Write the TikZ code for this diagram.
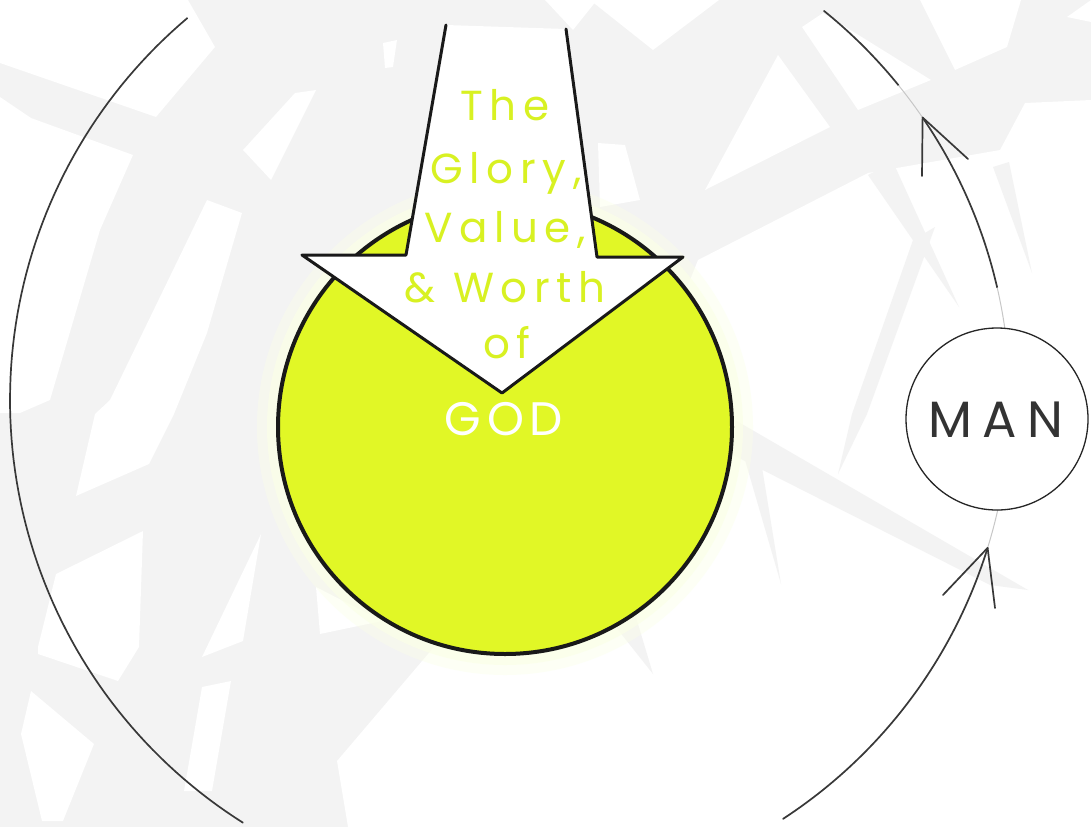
\documentclass[tikz,border=0pt]{standalone}
\usepackage{fontspec}
\setmainfont{Poppins}
\newfontfamily\gloryfont{Poppins}[LetterSpace=16]
\newfontfamily\godfont{Poppins}[LetterSpace=12]
\newfontfamily\manfont{Poppins}[LetterSpace=21]
\definecolor{bggray}{RGB}{243,243,243}
\definecolor{godgreen}{RGB}{225,247,38}
\definecolor{textgreen}{RGB}{216,241,34}
\definecolor{halo}{RGB}{251,255,232}
\begin{document}
\begin{tikzpicture}[x=1pt,y=-1pt,
  wpatch/.style={fill=white,draw=none},
  gpatch/.style={fill=bggray,draw=none},
  orbit/.style={draw=black!78,line width=1.7pt,line cap=round,line join=round},
  faint/.style={draw=black!22,line width=1pt},
  glory/.style={text=textgreen,font=\gloryfont\fontsize{42}{48}\selectfont,anchor=base,inner sep=0pt},
  outline/.style={draw=black!90,line width=3pt,line cap=round,line join=round}]
\useasboundingbox (0,0) rectangle (1091,827);
% ---------- background ----------
\fill[bggray] (0,0) rectangle (1091,827);
\fill[wpatch] (0,0) -- (188,0) -- (215,47) -- (156,117) -- (0,63) -- cycle;
\fill[wpatch] (0,97) -- (31,118) -- (133,155) -- (100,230) -- (50,400) -- (20,413) -- (0,413) -- cycle;
\fill[wpatch] (207,200) -- (242,213) -- (207,333) -- (174,414) -- (149,464) -- (76,496) -- (95,414) -- (110,400) -- cycle;
\fill[wpatch] (243,150) -- (271,180) -- (316,90) -- (295,93) -- cycle;
\fill[wpatch] (383,43) -- (397,40) -- (393,67) -- (385,68) -- cycle;
\fill[wpatch] (38,647) -- (56,574) -- (143,531) -- (139,647) -- (118,681) -- (38,654) -- cycle;
\fill[wpatch] (202,657) -- (261,534) -- (243,641) -- cycle;
\fill[wpatch] (21,734) -- (31,691) -- (94,744) -- (63,821) -- (42,821) -- cycle;
\fill[wpatch] (184,791) -- (202,687) -- (231,681) -- (212,791) -- cycle;
\fill[wpatch] (316,587) -- (382,621) -- (320,634) -- cycle;
\fill[wpatch] (590,0) -- (719,0) -- (653,50) -- cycle;
\fill[wpatch] (545,0) -- (597,0) -- (573,30) -- cycle;
\fill[wpatch] (598,143) -- (625,145) -- (640,200) -- (600,207) -- cycle;
\fill[wpatch] (705,190) -- (778,55) -- (830,127) -- cycle;
\fill[wpatch] (802,27) -- (823,13) -- (931,80) -- (858,110) -- cycle;
\fill[wpatch] (920,0) -- (1021,0) -- (1007,47) -- (955,70) -- cycle;
\fill[wpatch] (1067,17) -- (1091,0) -- (1091,22) -- cycle;
\fill[wpatch] (348,827) -- (337,761) -- (434,647) -- (545,647) -- (698,260) -- (868,173)
   -- (1000,150) -- (1025,103) -- (1091,100) -- (1091,827) -- cycle;
\fill[gpatch] (868,175) -- (893,162) -- (959,307) -- cycle;
\fill[gpatch] (993,167) -- (1009,162) -- (1032,273) -- cycle;
\fill[gpatch] (913,240) -- (935,227) -- (867,414) -- (838,474) -- (852,414) -- cycle;
\fill[gpatch] (735,420) -- (1028,590) -- (990,585) -- (733,455) -- cycle;
\fill[gpatch] (745,460) -- (760,455) -- (781,584) -- cycle;
\fill[gpatch] (611,621) -- (635,614) -- (653,674) -- cycle;
% ---------- orbit ----------
\coordinate (orbitc) at (510,400);
\draw[orbit] plot[domain=122.3:229.8,samples=90] ({510+500*cos(\x)},{400+500*sin(\x)});
\draw[orbit] plot[domain=-51.1:-39,samples=20] ({510+500*cos(\x)},{400+500*sin(\x)});
\draw[faint] plot[domain=-39:-34.4,samples=10] ({510+500*cos(\x)},{400+500*sin(\x)});
\draw[orbit] plot[domain=-34.4:-13,samples=30] ({510+500*cos(\x)},{400+500*sin(\x)});
\draw[faint] plot[domain=-13:17.2,samples=30] ({510+500*cos(\x)},{400+500*sin(\x)});
\draw[orbit] plot[domain=17.2:56.9,samples=50] ({510+500*cos(\x)},{400+500*sin(\x)});
% arrowheads on the orbit
\coordinate (tipa) at (922.6,117.5);
\coordinate (tipal) at (922,176);
\coordinate (tipar) at (968,159);
\coordinate (tipb) at (987.6,547.9);
\coordinate (tipbl) at (943,595);
\coordinate (tipbr) at (995,608);
\draw[orbit] (tipal) -- (tipa) -- (tipar);
\draw[orbit] (tipbl) -- (tipb) -- (tipbr);
% ---------- GOD circle ----------
\fill[halo,opacity=0.4] (505,427) circle[radius=248pt];
\fill[halo,opacity=0.7] (505,427) circle[radius=238pt];
\node[circle,minimum size=454pt,inner sep=0pt,fill=godgreen,draw=black!90,line width=4pt] (god) at (505,427) {};
% ---------- arrow ----------
\coordinate (sl) at (446,25);
\coordinate (sr) at (566,29);
\coordinate (slb) at (406,255);
\coordinate (srb) at (597,257);
\coordinate (hl) at (302,255);
\coordinate (hr) at (683,257);
\coordinate (tip) at (502,393);
\fill[white] (sl) -- (slb) -- (hl) -- (tip) -- (hr) -- (srb) -- (sr) -- cycle;
\draw[outline] (sl) -- (slb) -- (hl) -- (tip) -- (hr) -- (srb) -- (sr);
\node[glory] (t1) at (505,120) {The};
\node[glory] (t2) at (506,183) {Glory,};
\node[glory] (t3) at (505,242) {Value,};
\node[glory] (t4) at (505,302) {\& Worth};
\node[glory] (t5) at (507,358) {of};
\node[anchor=base,inner sep=0pt,text=white,font=\godfont\fontsize{47}{50}\selectfont] (godlabel) at (504,435) {GOD};
% ---------- MAN ----------
\node[circle,minimum size=182pt,inner sep=0pt,fill=white,draw=black!85,line width=1.3pt] (man) at (997,419) {};
\node[anchor=base,inner sep=0pt,text=black!80,font=\manfont\fontsize{51}{54}\selectfont] (manlabel) at (996,437) {MAN};
\end{tikzpicture}
\end{document}
